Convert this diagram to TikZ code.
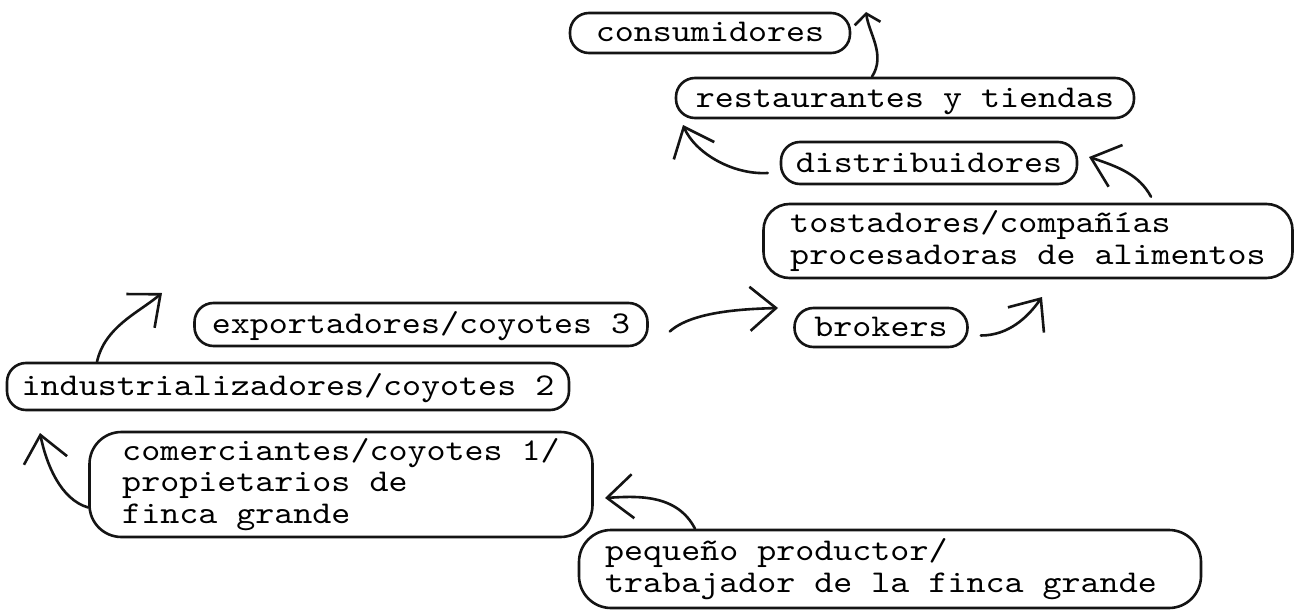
\documentclass[tikz,border=0pt]{standalone}
\usepackage{fontspec}
\newfontfamily\tw{lmmono10-regular}[Extension=.otf, FakeStretch=1.143]
\usetikzlibrary{arrows.meta}
\begin{document}
\begin{tikzpicture}[x=1pt,y=-1pt,
  ink/.style={draw=black!92, line width=2.6pt, line cap=round, line join=round},
  txt/.style={font=\tw\fontsize{31.7}{31.5}\selectfont, text=black},
  oval/.style={ink, txt, rounded corners=#1, inner sep=0pt, text height=24pt, text depth=6pt},
  oval/.default=19pt,
  tall/.style={ink, txt, rounded corners=#1, inner sep=0pt, align=left},
  tall/.default=28pt,
  arr/.style={ink, -{Straight Barb[length=26pt,width=44pt,line width=2.6pt]}},
  arrsmall/.style={ink, -{Straight Barb[length=10pt,width=26pt,line width=2.6pt]}},
]
\useasboundingbox[fill=white] (0,0) rectangle (1304,610);

% stages of the chain
\node[oval, minimum width=280pt, minimum height=40pt] (cons) at (710,33) {consumidores};
\node[oval, minimum width=458pt, minimum height=40pt] (rest) at (905,98) {restaurantes y tiendas};
\node[oval, minimum width=296pt, minimum height=42pt] (dist) at (929,163) {distribuidores};
\node[tall=26pt, minimum width=529pt, minimum height=74pt] (tost) at (1028,241)
  {tostadores/compañías\\procesadoras de alimentos};
\node[oval, minimum width=453pt, minimum height=43pt] (expo) at (421,324.5) {exportadores/coyotes 3};
\node[oval, minimum width=173pt, minimum height=39pt] (brok) at (881,327.5) {brokers};
\node[oval, minimum width=562pt, minimum height=47pt] (indu) at (288,386.5) {industrializadores/coyotes 2};
\node[tall=32pt, minimum width=503pt, minimum height=105pt] (come) at (341,484.5)
  {comerciantes/coyotes 1/\\propietarios de\\finca grande};
\node[tall=32pt, minimum width=622pt, minimum height=78pt] (pequ) at (890,569)
  {pequeño productor/\\trabajador de la finca grande\hspace*{18pt}};

% free ends of the hand-drawn arrows
\coordinate (t1) at (866,12);
\coordinate (t2) at (683,125);
\coordinate (t3) at (1089,157);
\coordinate (t4) at (778,308);
\coordinate (t5) at (1042,297);
\coordinate (t6) at (162,293);
\coordinate (t7) at (40,433);
\coordinate (t8) at (605,498);

% flow arrows
\draw[arrsmall] ([xshift=-33pt]rest.north) .. controls +(14,-22) and +(3,22) .. (t1);
\draw[arr] ([xshift=-12pt,yshift=-10pt]dist.west) .. controls +(-35,2) and +(12,28) .. (t2);
\draw[arr] ([xshift=123pt,yshift=6pt]tost.north) .. controls +(-12,-22) and +(30,10) .. (t3);
\draw[arr] ([xshift=21pt,yshift=-7pt]expo.east) .. controls +(22,-20) and +(-35,1) .. (t4);
\draw[arr] ([xshift=12pt,yshift=-8pt]brok.east) .. controls +(28,0) and +(-14,20) .. (t5);
\draw[arr] ([xshift=-191pt]indu.north) .. controls +(8,-35) and +(-24,20) .. (t6);
\draw[arr] ([yshift=-23pt]come.west) .. controls +(-28,-8) and +(6,30) .. (t7);
\draw[arr] ([xshift=-195pt]pequ.north) .. controls +(-18,-35) and +(32,-2) .. (t8);
\end{tikzpicture}
\end{document}
